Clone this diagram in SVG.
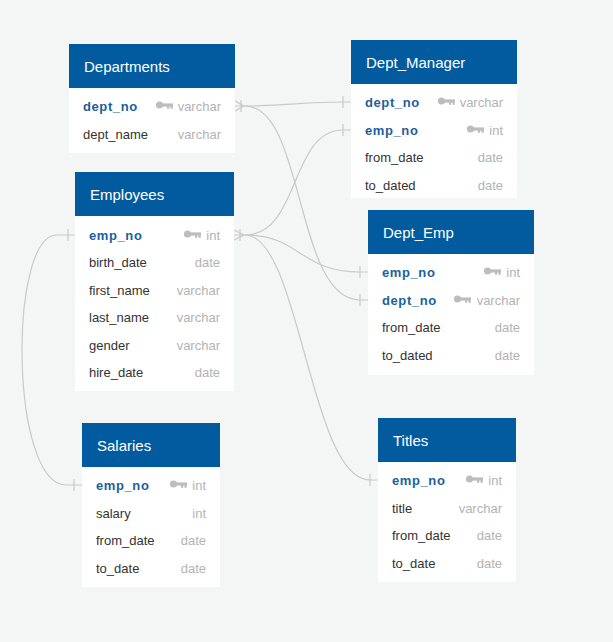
<svg xmlns="http://www.w3.org/2000/svg" width="613" height="642" viewBox="0 0 613 642">
<defs>
<style>
.bg{fill:#f4f5f5}
.body{fill:#ffffff}
.hdr{fill:#035b9f}
.title{font-family:"Liberation Sans",Arial,sans-serif;font-size:15px;fill:#ffffff}
.f{font-family:"Liberation Sans",Arial,sans-serif;font-size:13px;fill:#333333}
.k{font-family:"Liberation Sans",Arial,sans-serif;font-size:13px;fill:#1c5f9c;font-weight:bold;letter-spacing:0.6px}
.t{font-family:"Liberation Sans",Arial,sans-serif;font-size:13px;fill:#b3b3b3;text-anchor:end}
.key{fill:#bdbdbd}
.c{fill:none;stroke:#c9c9c9;stroke-width:1.2}
</style>
<g id="keyicon">
<circle cx="3.5" cy="0" r="3.6"/>
<rect x="5" y="-1.6" width="12" height="3.2"/>
<rect x="11" y="0" width="2.2" height="3.8"/>
<rect x="14.5" y="0" width="2.2" height="3.8"/>
</g>
</defs>
<rect class="bg" x="0" y="0" width="613" height="642"/>

<g id="connectors">
<!-- Departments.dept_no -> Dept_Manager.dept_no -->
<path class="c" d="M235,106 L245,106 C290,106 300,102 343,102 L351,102"/>
<path class="c" d="M235,101 L244,106 L235,111 M241,100 L241,112 M343,96 L343,108"/>
<!-- Departments.dept_no -> Dept_Emp.dept_no -->
<path class="c" d="M245,106 C305,106 295,300 360,300 L368,300"/>
<path class="c" d="M360,294 L360,306"/>
<!-- Employees.emp_no -> Dept_Manager.emp_no -->
<path class="c" d="M234,235 L245,235 C300,235 290,130 343,130 L351,130"/>
<path class="c" d="M234,230 L244,235 L234,240 M240,229 L240,241 M343,124 L343,136"/>
<!-- Employees.emp_no -> Dept_Emp.emp_no -->
<path class="c" d="M245,235 C300,235 300,272 360,272 L368,272"/>
<path class="c" d="M360,266 L360,278"/>
<!-- Employees.emp_no -> Titles.emp_no -->
<path class="c" d="M245,235 C300,235 310,480 370,480 L378,480"/>
<path class="c" d="M370,474 L370,486"/>
<!-- Employees.emp_no -> Salaries.emp_no -->
<path class="c" d="M75,235 L57,235 C8,235 10,485 66,485 L82,485"/>
<path class="c" d="M68,229 L68,241 M74,479 L74,491"/>
</g>

<g id="departments">
<rect class="body" x="69" y="44" width="166" height="109"/>
<rect class="hdr" x="69" y="44" width="166" height="44"/>
<text class="title" x="84" y="72">Departments</text>
<text class="k" x="83" y="111">dept_no</text>
<use href="#keyicon" class="key" x="156" y="105"/>
<text class="t" x="221" y="111">varchar</text>
<text class="f" x="83" y="139">dept_name</text>
<text class="t" x="221" y="139">varchar</text>
</g>

<g id="dept_manager">
<rect class="body" x="351" y="40" width="166" height="158"/>
<rect class="hdr" x="351" y="40" width="166" height="44"/>
<text class="title" x="366" y="68">Dept_Manager</text>
<text class="k" x="365" y="107">dept_no</text>
<use href="#keyicon" class="key" x="438" y="101"/>
<text class="t" x="503" y="107">varchar</text>
<text class="k" x="365" y="135">emp_no</text>
<use href="#keyicon" class="key" x="467" y="129"/>
<text class="t" x="503" y="135">int</text>
<text class="f" x="365" y="162">from_date</text>
<text class="t" x="503" y="162">date</text>
<text class="f" x="365" y="190">to_dated</text>
<text class="t" x="503" y="190">date</text>
</g>

<g id="employees">
<rect class="body" x="75" y="172" width="159" height="219"/>
<rect class="hdr" x="75" y="172" width="159" height="44"/>
<text class="title" x="90" y="200">Employees</text>
<text class="k" x="89" y="240">emp_no</text>
<use href="#keyicon" class="key" x="184" y="234"/>
<text class="t" x="220" y="240">int</text>
<text class="f" x="89" y="267">birth_date</text>
<text class="t" x="220" y="267">date</text>
<text class="f" x="89" y="295">first_name</text>
<text class="t" x="220" y="295">varchar</text>
<text class="f" x="89" y="322">last_name</text>
<text class="t" x="220" y="322">varchar</text>
<text class="f" x="89" y="350">gender</text>
<text class="t" x="220" y="350">varchar</text>
<text class="f" x="89" y="377">hire_date</text>
<text class="t" x="220" y="377">date</text>
</g>

<g id="dept_emp">
<rect class="body" x="368" y="210" width="166" height="165"/>
<rect class="hdr" x="368" y="210" width="166" height="44"/>
<text class="title" x="383" y="238">Dept_Emp</text>
<text class="k" x="382" y="277">emp_no</text>
<use href="#keyicon" class="key" x="484" y="271"/>
<text class="t" x="520" y="277">int</text>
<text class="k" x="382" y="305">dept_no</text>
<use href="#keyicon" class="key" x="454" y="299"/>
<text class="t" x="520" y="305">varchar</text>
<text class="f" x="382" y="332">from_date</text>
<text class="t" x="520" y="332">date</text>
<text class="f" x="382" y="360">to_dated</text>
<text class="t" x="520" y="360">date</text>
</g>

<g id="salaries">
<rect class="body" x="82" y="423" width="138" height="164"/>
<rect class="hdr" x="82" y="423" width="138" height="44"/>
<text class="title" x="97" y="451">Salaries</text>
<text class="k" x="96" y="490">emp_no</text>
<use href="#keyicon" class="key" x="170" y="484"/>
<text class="t" x="206" y="490">int</text>
<text class="f" x="96" y="518">salary</text>
<text class="t" x="206" y="518">int</text>
<text class="f" x="96" y="545">from_date</text>
<text class="t" x="206" y="545">date</text>
<text class="f" x="96" y="573">to_date</text>
<text class="t" x="206" y="573">date</text>
</g>

<g id="titles">
<rect class="body" x="378" y="418" width="138" height="164"/>
<rect class="hdr" x="378" y="418" width="138" height="44"/>
<text class="title" x="393" y="446">Titles</text>
<text class="k" x="392" y="485">emp_no</text>
<use href="#keyicon" class="key" x="466" y="479"/>
<text class="t" x="502" y="485">int</text>
<text class="f" x="392" y="513">title</text>
<text class="t" x="502" y="513">varchar</text>
<text class="f" x="392" y="540">from_date</text>
<text class="t" x="502" y="540">date</text>
<text class="f" x="392" y="568">to_date</text>
<text class="t" x="502" y="568">date</text>
</g>
</svg>
